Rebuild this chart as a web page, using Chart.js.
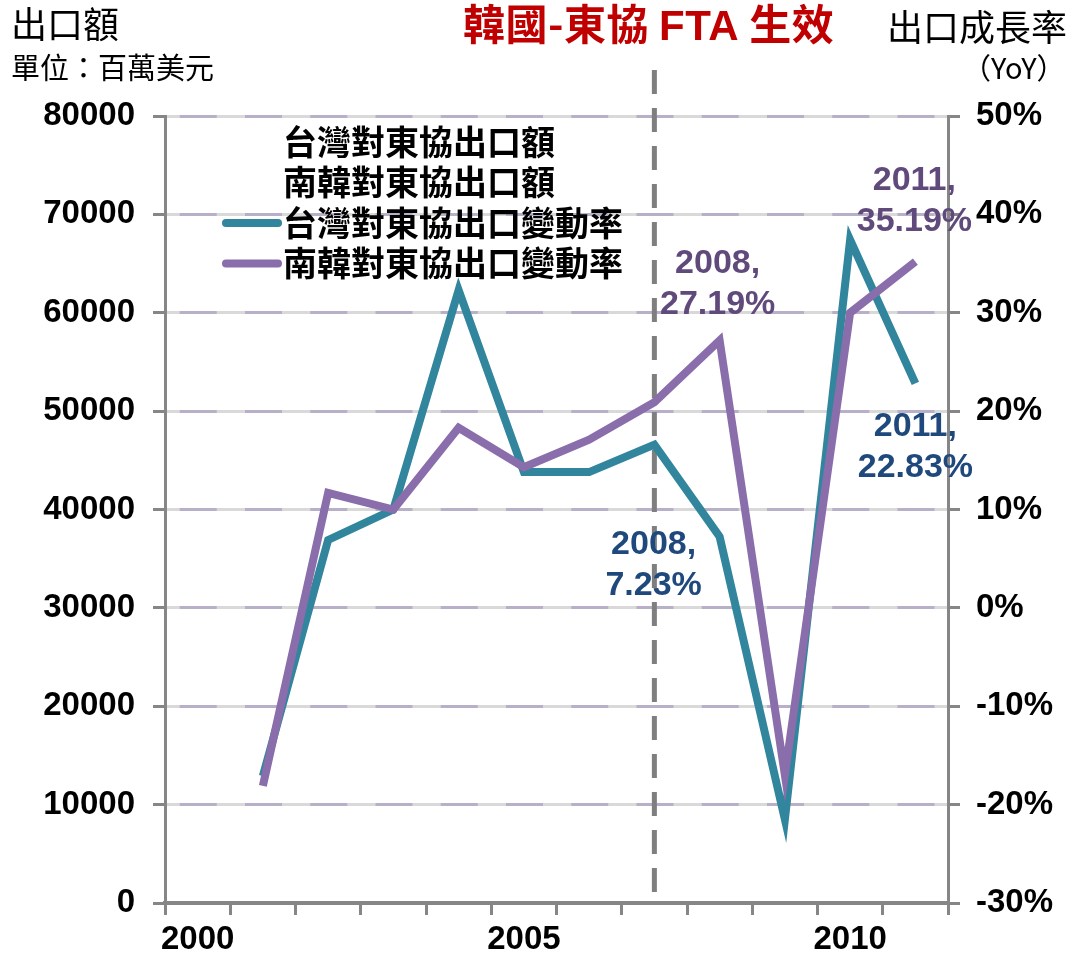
<!DOCTYPE html>
<html>
<head>
<meta charset="utf-8">
<script src="https://cdn.jsdelivr.net/npm/chart.js@4/dist/chart.umd.min.js"></script>
<style>
  html, body { margin: 0; padding: 0; background: #fff; }
  #wrap { position: relative; width: 1075px; height: 960px; }
  .t { position: absolute; white-space: nowrap; font-family: "Noto Sans CJK TC", "Noto Sans", sans-serif; color: #000; line-height: 1; }
</style>
</head>
<body>
<div id="wrap">
  <canvas id="c" width="1075" height="960"></canvas>
  <div class="t" style="left:11px;top:4px;font-size:36px">出口額</div>
  <div class="t" style="left:11px;top:52px;font-size:29px">單位：百萬美元</div>
  <div class="t" style="left:463px;top:1px;font-size:42px;font-weight:bold;color:#c00000;letter-spacing:0.5px">韓國-東協 <span style="font-family:'Liberation Sans',Arial,sans-serif">FTA</span> 生效</div>
  <div class="t" style="left:887px;top:7px;font-size:36px">出口成長率</div>
  <div class="t" style="left:962px;top:52px;font-size:29px">（YoY）</div>
</div>
<script>
/* Taiwan vs Korea exports to ASEAN — growth rate lines, FTA marker at 2007 */
const years = ["2000", "2001", "2002", "2003", "2004", "2005", "2006", "2007", "2008", "2009", "2010", "2011"];
// export-amount series appear only in the legend (no visible marks in the source)
const twAmount = [];
const krAmount = [];
// YoY growth, % (right axis)
const twRate = [null, -17.1, 6.9, 10.0, 32.3, 13.8, 13.8, 16.6, 7.23, -21.5, 37.4, 22.83];
const krRate = [null, -18.1, 11.7, 10.0, 18.3, 14.3, 17.1, 20.9, 27.19, -17.0, 30.0, 35.19];
const leftTicks = [0, 80000, 10000];   // min, max, step
const rightTicks = [-30, 50, 10];
const ftaYear = "2007";

const TEAL = "#31859c", PURPLE = "#8a6dab";
const NUM_FONT = "'Liberation Sans', Arial, sans-serif";
const CJK_FONT = "'Noto Sans CJK TC', 'Noto Sans', sans-serif";

// point callouts: which index, and where the two-line text sits relative to the point
const callouts = [
  { ds: 2, i: 8, dx: -66, dy: 28, color: "#1f497d" },
  { ds: 2, i: 11, dx: 0, dy: 63, color: "#1f497d" },
  { ds: 3, i: 8, dx: -2, dy: -57, color: "#604a7b" },
  { ds: 3, i: 11, dx: -1, dy: -61, color: "#604a7b" },
];

const ftaLine = {
  id: "ftaLine",
  beforeDatasetsDraw(chart) {
    const { ctx, chartArea } = chart;
    const x = chart.scales.x.getPixelForValue(years.indexOf(ftaYear));
    ctx.save();
    ctx.strokeStyle = "#7f7f7f";
    ctx.lineWidth = 5;
    ctx.setLineDash([24, 14]);
    ctx.beginPath();
    ctx.moveTo(x, chartArea.top - 46);
    ctx.lineTo(x, chartArea.bottom - 8);
    ctx.stroke();
    ctx.restore();
  },
};

const legendBox = {
  id: "legendBox",
  afterDraw(chart) {
    const { ctx } = chart;
    ctx.save();
    ctx.font = "bold 34px " + CJK_FONT;
    ctx.textBaseline = "middle";
    ctx.fillStyle = "#000";
    chart.data.datasets.forEach((d, k) => {
      const y = 142 + k * 40.5;
      if (d.type === "line") {
        ctx.strokeStyle = d.borderColor;
        ctx.lineWidth = 8;
        ctx.lineCap = "round";
        ctx.beginPath();
        ctx.moveTo(226, y);
        ctx.lineTo(278, y);
        ctx.stroke();
      }
      ctx.fillText(d.label, 283, y);
    });
    ctx.restore();
  },
};

const pointNotes = {
  id: "pointNotes",
  afterDatasetsDraw(chart) {
    const { ctx } = chart;
    ctx.save();
    ctx.font = "bold 34px " + NUM_FONT;
    ctx.textAlign = "center";
    ctx.textBaseline = "middle";
    callouts.forEach(c => {
      const v = chart.data.datasets[c.ds].data[c.i];
      const x = chart.scales.x.getPixelForValue(c.i) + c.dx;
      const y = chart.scales.y1.getPixelForValue(v) + c.dy;
      ctx.fillStyle = c.color;
      ctx.fillText(years[c.i] + ",", x, y - 20);
      ctx.fillText(v.toFixed(2) + "%", x, y + 21);
    });
    ctx.restore();
  },
};

new Chart(document.getElementById("c"), {
  data: {
    labels: years,
    datasets: [
      { type: "bar", label: "台灣對東協出口額", data: twAmount, yAxisID: "y", backgroundColor: "#fff" },
      { type: "bar", label: "南韓對東協出口額", data: krAmount, yAxisID: "y", backgroundColor: "#fff" },
      { type: "line", label: "台灣對東協出口變動率", data: twRate, yAxisID: "y1", order: 2,
        borderColor: TEAL, backgroundColor: TEAL, borderWidth: 8, pointRadius: 0, tension: 0,
        borderJoinStyle: "miter", spanGaps: false },
      { type: "line", label: "南韓對東協出口變動率", data: krRate, yAxisID: "y1", order: 1,
        borderColor: PURPLE, backgroundColor: PURPLE, borderWidth: 8, pointRadius: 0, tension: 0,
        borderJoinStyle: "miter", spanGaps: false },
    ],
  },
  options: {
    responsive: false, animation: false,
    layout: { padding: { top: 116, left: 0, right: 0, bottom: 0 } },
    plugins: { legend: { display: false }, tooltip: { enabled: false } },
    scales: {
      x: {
        type: "category", offset: true,
        grid: { offset: true, drawOnChartArea: false, drawTicks: true, tickLength: 12,
                tickColor: "#868686", tickWidth: 3 },
        border: { color: "#868686", width: 4 },
        ticks: { autoSkip: false, maxRotation: 0, color: "#000", padding: 5,
                 font: { family: NUM_FONT, size: 33, weight: "bold" },
                 callback: (v, i) => (+years[i] % 5 === 0 ? years[i] : "") },
        afterFit: s => { s.height = 57; },
      },
      y: {
        position: "left", min: leftTicks[0], max: leftTicks[1],
        ticks: { stepSize: leftTicks[2], color: "#000", padding: 18,
                 font: { family: NUM_FONT, size: 33, weight: "bold" },
                 callback: v => String(v) },
        grid: { color: "#d9d9d9", lineWidth: 3, tickLength: 12, tickColor: "#868686", tickWidth: 3 },
        border: { color: "#868686", width: 3 },
        afterFit: s => { s.width = 165; },
      },
      y1: {
        position: "right", min: rightTicks[0], max: rightTicks[1],
        ticks: { stepSize: rightTicks[2], color: "#000", padding: 16,
                 font: { family: NUM_FONT, size: 33, weight: "bold" },
                 callback: v => v + "%" },
        grid: { color: "#b8b0c8", lineWidth: 3, tickLength: 12, tickColor: "#868686", tickWidth: 3,
                tickBorderDash: [] },
        border: { color: "#868686", width: 3, dash: [37, 28.25], dashOffset: 50.5 },
        afterFit: s => { s.width = 127; },
      },
    },
  },
  plugins: [ftaLine, pointNotes, legendBox],
});
</script>
</body>
</html>
